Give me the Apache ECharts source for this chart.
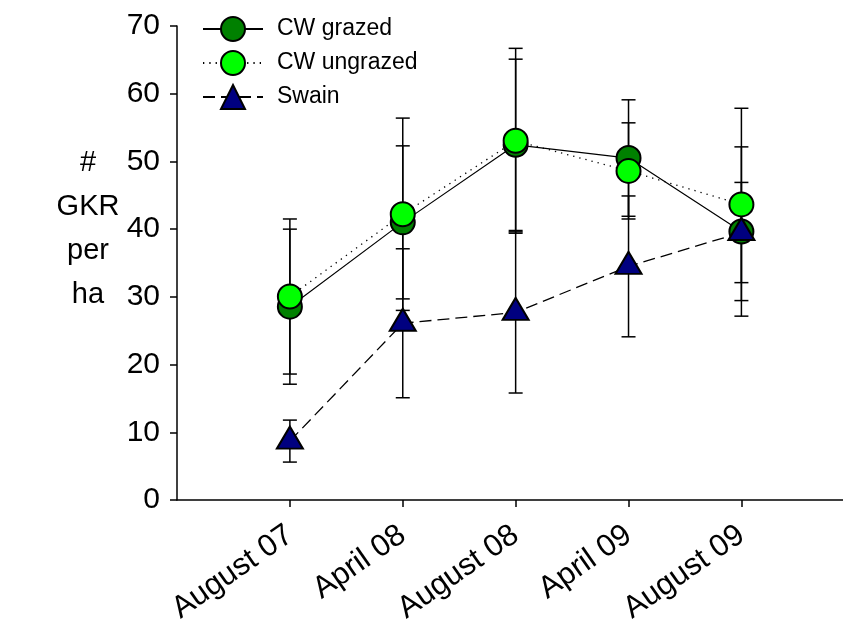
<!DOCTYPE html>
<html lang="en">
<head>
    <meta charset="UTF-8">
    <title>GKR per ha</title>
    <script type="text/javascript" src="https://cdn.jsdelivr.net/npm/echarts@6/dist/echarts.min.js"></script>
    <style>
        html, body { margin: 0; padding: 0; background: #fff; }
    </style>
</head>
<body>
    <div id="main" style="width: 843px;height:624px;"></div>
    <script type="text/javascript">
        // 数据
        var categories = ['August 07', 'April 08', 'August 08', 'April 09', 'August 09'];
        var grazed = [28.55, 41.0, 52.45, 50.5, 39.65];
        var grazedErr = [11.45, 11.3, 12.65, 8.6, 12.5];
        var ungrazed = [30.05, 42.2, 53.05, 48.6, 43.65];
        var ungrazedErr = [11.45, 14.2, 13.65, 7.1, 14.2];
        var swain = [8.7, 26.1, 27.7, 34.5, 39.5];
        var swainErr = [3.1, 11.0, 11.9, 10.4, 7.4];
        var yTicks = [0, 10, 20, 30, 40, 50, 60, 70];

        var font = 'Liberation Sans, Arial, sans-serif';

        // 类别位置 1..5
        function pts(vals) {
            return vals.map(function (v, i) { return [i + 1, v]; });
        }

        // 误差线
        function errBars(name, vals, errs) {
            return {
                type: 'custom',
                name: name + ' err',
                silent: true,
                z: 1,
                data: vals.map(function (v, i) { return [i + 1, v - errs[i], v + errs[i]]; }),
                encode: {x: 0, y: [1, 2]},
                renderItem: function (params, api) {
                    var x = api.value(0);
                    var lo = api.coord([x, api.value(1)]);
                    var hi = api.coord([x, api.value(2)]);
                    var w = 7;
                    var st = {stroke: '#000', lineWidth: 1.5};
                    return {
                        type: 'group',
                        children: [
                            {type: 'line', shape: {x1: lo[0], y1: lo[1], x2: hi[0], y2: hi[1]}, style: st},
                            {type: 'line', shape: {x1: lo[0] - w, y1: lo[1], x2: lo[0] + w, y2: lo[1]}, style: st},
                            {type: 'line', shape: {x1: hi[0] - w, y1: hi[1], x2: hi[0] + w, y2: hi[1]}, style: st}
                        ]
                    };
                }
            };
        }

        var myChart = echarts.init(document.getElementById('main'));
        var option = {
            animation: false,
            backgroundColor: '#fff',
            grid: {left: 177, top: 26, right: 0, bottom: 124, outerBoundsMode: 'none'},
            legend: {
                orient: 'vertical',
                left: 197,
                top: 11,
                itemWidth: 60,
                itemHeight: 30,
                itemGap: 8,
                data: ['CW grazed', 'CW ungrazed', 'Swain'],
                textStyle: {fontFamily: font, fontSize: 23, color: '#000', padding: [0, 0, 0, 9]}
            },
            graphic: [{
                type: 'text',
                x: 88,
                y: 141,
                style: {
                    text: '#\nGKR\nper\nha',
                    font: '29px ' + font,
                    fill: '#000',
                    textAlign: 'center',
                    textVerticalAlign: 'top',
                    lineHeight: 44
                }
            }],
            xAxis: {
                type: 'value',
                min: 0,
                max: 5.9,
                splitLine: {show: false},
                axisLine: {lineStyle: {color: '#000', width: 1.5}},
                axisTick: {
                    length: 7,
                    lineStyle: {color: '#000', width: 1.5},
                    customValues: [1, 2, 3, 4, 5]
                },
                axisLabel: {
                    customValues: [1, 2, 3, 4, 5],
                    formatter: function (v) { return categories[v - 1] || ''; },
                    rotate: 35,
                    margin: 32,
                    fontFamily: font,
                    fontSize: 31,
                    color: '#000'
                }
            },
            yAxis: {
                type: 'value',
                min: 0,
                max: 70,
                interval: 10,
                splitLine: {show: false},
                axisLine: {lineStyle: {color: '#000', width: 1.5}},
                axisTick: {length: 7, lineStyle: {color: '#000', width: 1.5}},
                axisLabel: {
                    customValues: yTicks,
                    margin: 17,
                    fontFamily: font,
                    fontSize: 30,
                    color: '#000'
                }
            },
            series: [
                errBars('CW grazed', grazed, grazedErr),
                errBars('CW ungrazed', ungrazed, ungrazedErr),
                errBars('Swain', swain, swainErr),
                {
                    name: 'CW grazed',
                    type: 'line',
                    z: 3,
                    data: pts(grazed),
                    symbol: 'circle',
                    symbolSize: 24,
                    lineStyle: {color: '#000', width: 1.2, type: 'solid'},
                    itemStyle: {color: '#008000', borderColor: '#000', borderWidth: 2}
                },
                {
                    name: 'CW ungrazed',
                    type: 'line',
                    z: 4,
                    data: pts(ungrazed),
                    symbol: 'circle',
                    symbolSize: 24,
                    lineStyle: {color: '#000', width: 1.3, type: [1.3, 5]},
                    itemStyle: {color: '#00ff00', borderColor: '#000', borderWidth: 2}
                },
                {
                    name: 'Swain',
                    type: 'line',
                    z: 5,
                    data: pts(swain),
                    symbol: 'triangle',
                    symbolSize: [26, 22],
                    symbolOffset: [0, -3.5],
                    lineStyle: {color: '#000', width: 1.3, type: [12, 6]},
                    itemStyle: {color: '#000080', borderColor: '#000', borderWidth: 2}
                }
            ]
        };
        myChart.setOption(option);
    </script>
</body>
</html>
